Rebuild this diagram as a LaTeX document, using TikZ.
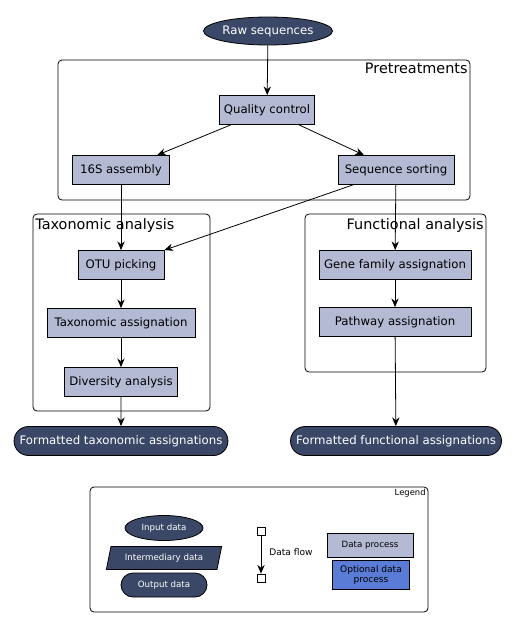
\documentclass[tikz,border=0pt]{standalone}
\usepackage{fontspec}
\setmainfont{DejaVu Sans}
\usetikzlibrary{shapes.geometric,shapes.misc,arrows.meta}

\definecolor{navy}{HTML}{3A4766}
\definecolor{procgray}{HTML}{B5BAD4}
\definecolor{optblue}{HTML}{5A7CD6}

\tikzset{
  proc/.style={draw, rectangle, fill=procgray, inner xsep=3pt, minimum height=21.75pt, font=\fontsize{8.8}{10}\selectfont},
  indata/.style={draw, ellipse, fill=navy, text=white, inner sep=0pt},
  outdata/.style={draw, rounded rectangle, fill=navy, text=white, minimum height=21.75pt, font=\fontsize{8.8}{10}\selectfont},
  group/.style={draw, rounded corners=3pt},
  grouptitle/.style={inner sep=0pt, font=\fontsize{10.8}{12}\selectfont},
  flow/.style={->, >={Stealth[length=6.5pt,width=5.5pt]}},
}

\begin{document}
\begin{tikzpicture}[x=0.75pt, y=-0.75pt, line width=0.6pt]
\useasboundingbox (0,0) rectangle (518,628);

% groups
\draw[group] (58,60) rectangle (470,200);
\node[grouptitle, anchor=north east] (pretitle) at (468,63) {Pretreatments};
\draw[group] (33,214) rectangle (210,411);
\node[grouptitle, anchor=north west] (taxtitle) at (35,218) {Taxonomic analysis};
\draw[group] (305,214) rectangle (486,372);
\node[grouptitle, anchor=north east] (functitle) at (484,218) {Functional analysis};

% data
\node[indata, minimum width=96.75pt, minimum height=21pt, font=\fontsize{8.8}{10}\selectfont] at (268,31) (raw) {Raw sequences};
\node[outdata, minimum width=158pt] at (121,441) (ftax) {Formatted taxonomic assignations};
\node[outdata, minimum width=158pt] at (396,441) (ffunc) {Formatted functional assignations};

% processes
\node[proc] at (267,110) (qc) {Quality control};
\node[proc, minimum width=72.75pt] at (121,170) (asm) {16S assembly};
\node[proc, minimum width=87pt] at (396,170) (sort) {Sequence sorting};
\node[proc, minimum width=64.5pt] at (121,265) (otu) {OTU picking};
\node[proc, minimum width=111pt] at (121,323) (taxa) {Taxonomic assignation};
\node[proc, minimum width=84.75pt] at (121,382) (div) {Diversity analysis};
\node[proc, minimum width=114pt] at (395,265) (gene) {Gene family assignation};
\node[proc, minimum width=114pt] at (395,322) (path) {Pathway assignation};

% data flow
\path[flow] (raw) edge (qc);
\path[flow] (qc) edge (asm);
\path[flow] (qc) edge (sort);
\path[flow] (asm) edge (otu);
\path[flow] (sort) edge (otu.north east);
\path[flow] (sort) edge (gene);
\path[flow] (otu) edge (taxa);
\path[flow] (taxa) edge (div);
\path[flow] (div) edge (ftax);
\path[flow] (gene) edge (path);
\path[flow] (path) edge (ffunc);

% legend
\draw[group] (90,487) rectangle (428,612);
\node[anchor=north east, inner sep=0pt, font=\fontsize{6.3}{7}\selectfont] (legtitle) at (426,489) {Legend};
\node[indata, minimum width=58.5pt, minimum height=18.75pt, font=\fontsize{6.5}{7.5}\selectfont] at (164,528) (legin) {Input data};
\node[draw, trapezium, trapezium left angle=68, trapezium right angle=112, trapezium stretches=true, fill=navy, text=white, minimum width=87pt, minimum height=17.25pt, inner sep=0pt, font=\fontsize{6.5}{7.5}\selectfont] at (164,558) (legmid) {Intermediary data};
\node[draw, rounded rectangle, fill=navy, text=white, minimum width=64.5pt, minimum height=18pt, inner sep=0pt, font=\fontsize{6.5}{7.5}\selectfont] at (164,585) (legout) {Output data};
\node[draw, rectangle, fill=white, minimum size=6pt, inner sep=0pt] at (261,531) (sqtop) {};
\node[draw, rectangle, fill=white, minimum size=6pt, inner sep=0pt] at (261,578) (sqbot) {};
\path[flow] (sqtop) edge (sqbot);
\node[anchor=west, inner sep=0pt, font=\fontsize{6.8}{8}\selectfont] at (269,552) (flowlabel) {Data flow};
\node[proc, minimum width=64.5pt, minimum height=18pt, font=\fontsize{6.5}{7.5}\selectfont] at (370,545) (legproc) {Data process};
\node[draw, rectangle, fill=optblue, minimum width=57.75pt, minimum height=21.75pt, inner sep=1pt, align=center, font=\fontsize{6.8}{7.8}\selectfont] at (371,575) (legopt) {Optional data\\process};

\end{tikzpicture}
\end{document}
